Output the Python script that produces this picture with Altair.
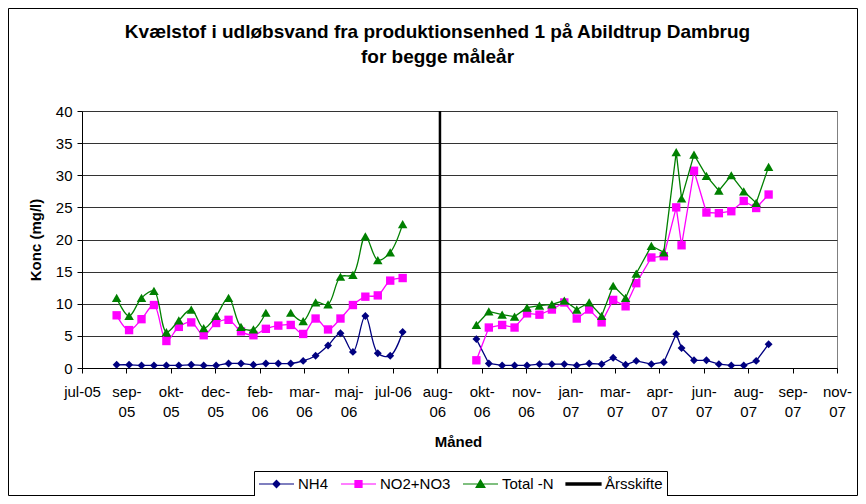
import json
import altair as alt
import pandas as pd

# ---------------- data ----------------
dates_p1 = ["2005-08-25", "2005-09-08", "2005-09-22", "2005-10-06", "2005-10-20", "2005-11-03",
            "2005-11-17", "2005-12-01", "2005-12-15", "2005-12-29", "2006-01-12", "2006-01-26",
            "2006-02-09", "2006-02-23", "2006-03-09", "2006-03-23", "2006-04-06", "2006-04-20",
            "2006-05-04", "2006-05-18", "2006-06-01", "2006-06-15", "2006-06-29", "2006-07-13"]
nh4_p1 = [0.5, 0.5, 0.4, 0.4, 0.4, 0.4, 0.5, 0.4, 0.4, 0.7, 0.7, 0.5,
          0.7, 0.7, 0.7, 1.1, 1.9, 3.5, 5.4, 2.5, 8.1, 2.3, 1.9, 5.6]
no_p1 = [8.2, 5.9, 7.6, 9.8, 4.2, 6.4, 7.1, 5.1, 7.0, 7.5, 5.7, 5.1,
         6.1, 6.6, 6.7, 5.3, 7.7, 6.0, 7.7, 9.8, 11.1, 11.3, 13.6, 14.0]
tot_p1 = [10.9, 8.1, 10.9, 12.0, 5.6, 7.4, 9.1, 6.2, 8.1, 10.9, 6.4, 6.0,
          8.6, None, 8.6, 7.3, 10.2, 9.9, 14.2, 14.5, 20.5, 16.8, 18.0, 22.4]

dates_p2 = ["2006-10-04", "2006-10-18", "2006-11-02", "2006-11-16", "2006-11-30", "2006-12-14",
            "2006-12-28", "2007-01-11", "2007-01-25", "2007-02-08", "2007-02-22", "2007-03-07",
            "2007-03-21", "2007-04-02", "2007-04-19", "2007-05-03", "2007-05-17", "2007-05-23",
            "2007-06-06", "2007-06-20", "2007-07-04", "2007-07-18", "2007-08-01", "2007-08-15",
            "2007-08-29"]
nh4_p2 = [4.5, 0.7, 0.4, 0.4, 0.4, 0.6, 0.6, 0.6, 0.4, 0.7, 0.6, 1.6,
          0.5, 1.1, 0.6, 0.9, 5.3, 3.1, 1.2, 1.2, 0.6, 0.4, 0.4, 1.1, 3.7]
no_p2 = [1.2, 6.3, 6.7, 6.3, 8.5, 8.3, 9.1, 10.2, 7.7, 9.1, 7.1, 10.6,
         9.6, 13.2, 17.2, 17.4, 25.0, 19.1, 30.7, 24.2, 24.1, 24.4, 26.0, 24.9, 27.0]
tot_p2 = [6.7, 8.8, 8.3, 8.0, 9.4, 9.7, 9.9, 10.5, 9.1, 10.2, 8.1, 12.8,
          10.9, 14.7, 19.0, 18.0, 33.6, 26.4, 33.2, 29.9, 27.6, 30.0, 27.5, 25.7, 31.3]

aarsskifte_dates = ["2006-08-24"]

series_names = ["NH4", "NO2+NO3", "Total -N", "Årsskifte"]
series_colors = ["#000080", "#FF00FF", "#008000", "#000000"]

tick_labels = ["jul-05", "sep-05", "okt-05", "dec-05", "feb-06", "mar-06", "maj-06", "jul-06", "aug-06",
               "okt-06", "nov-06", "jan-07", "mar-07", "apr-07", "jun-07", "aug-07", "sep-07", "nov-07"]
y_ticks = [0, 5, 10, 15, 20, 25, 30, 35, 40]

title_lines = ["Kvælstof  i udløbsvand fra produktionsenhed 1 på Abildtrup Dambrug", "for begge måleår"]

# ---------------- helpers ----------------
EPOCH = pd.Timestamp("1899-12-30")


def serial(d):
    return (pd.Timestamp(d) - EPOCH).days


tick_start = serial("2005-07-17")
tick_step = 50
tick_values = [tick_start + tick_step * i for i in range(len(tick_labels))]
label_arrays = [lab if lab.startswith("jul") else [lab.split("-")[0] + "-", lab.split("-")[1]]
                for lab in tick_labels]
label_expr = f"{json.dumps(label_arrays)}[round((datum.value - {tick_start}) / {tick_step})]"

rows = []
for period, dates, groups in [(1, dates_p1, [nh4_p1, no_p1, tot_p1]),
                              (2, dates_p2, [nh4_p2, no_p2, tot_p2])]:
    for name, vals in zip(series_names[:3], groups):
        for d, v in zip(dates, vals):
            rows.append({"t": serial(d), "v": v, "series": name, "period": period})
df = pd.DataFrame(rows)
df_rule = pd.DataFrame({"t": [serial(d) for d in aarsskifte_dates]})
df_legend = pd.DataFrame({"series": series_names})

FONT = "Liberation Sans, Arial, sans-serif"

x_enc = alt.X("t:Q",
              scale=alt.Scale(domain=[tick_values[0], tick_values[-1]], nice=False, zero=False),
              axis=alt.Axis(values=tick_values, labelExpr=label_expr, title="Måned",
                            grid=False, labelFlush=False, labelOverlap=False,
                            labelLineHeight=20, labelBaseline="top", labelPadding=11,
                            tickSize=5, titleX=376, titleY=73, titleBaseline="middle",
                            titleAlign="center"))
y_enc = alt.Y("v:Q",
              scale=alt.Scale(domain=[0, 40], nice=False, zero=True),
              axis=alt.Axis(values=y_ticks, title="Konc (mg/l)", grid=True,
                            labelFlush=False, labelOverlap=False, tickSize=5, labelPadding=5,
                            titleAngle=270, titleX=-47, titleY=128.5, titleBaseline="middle",
                            titleAlign="center"))

shapes = ["diamond", "square", "triangle-up"]
sizes = [62, 70, 90]
layers = []

# outer frame of the chart
frame = alt.Chart(pd.DataFrame({"f": [0]})).mark_rect(
    filled=False, stroke="black", strokeWidth=1, fillOpacity=0).encode(
    x=alt.value(-73.5), x2=alt.value(755 + 20.5), y=alt.value(-102.5), y2=alt.value(257 + 127.5))
layers.append(frame)

for name, col, shp, sz in zip(series_names[:3], series_colors[:3], shapes, sizes):
    sub = alt.Chart(df).transform_filter(alt.datum.series == name)
    l1 = sub.transform_filter(alt.datum.period == 1).mark_line(
        color=col, strokeWidth=1.3, interpolate="catmull-rom").encode(x=x_enc, y=y_enc)
    l2 = sub.transform_filter(alt.datum.period == 2).mark_line(
        color=col, strokeWidth=1.3).encode(x=x_enc, y=y_enc)
    pts = sub.transform_filter("isValid(datum.v)").mark_point(
        shape=shp, filled=True, size=sz, color=col, opacity=1, strokeWidth=1).encode(x=x_enc, y=y_enc)
    layers += [l1, l2, pts]

rule = alt.Chart(df_rule).mark_rule(color="black", strokeWidth=2.5).encode(x=x_enc)
layers.append(rule)

# legend symbols: a 35px line with a marker in its middle (unit = 8px, symbol box -1..1)
legend_paths = [
    "M-1,0H3.375M1.1875,-0.45L1.6375,0L1.1875,0.45L0.7375,0Z",
    "M-1,0H3.375M0.7475,-0.44H1.6275V0.44H0.7475Z",
    "M-1,0H3.375M1.1875,-0.5L1.7375,0.42H0.6375Z",
    "M-1,-0.13H3.375V0.13H-1Z",
]
leg = alt.Legend(title=None, orient="none", legendX=172, legendY=360, direction="horizontal",
                 strokeColor="black", fillColor="white", padding=4, labelFont=FONT,
                 labelFontSize=15, labelColor="black", symbolSize=256, symbolStrokeWidth=1.2,
                 labelOffset=22, columnPadding=9, symbolOpacity=1)
legend_layer = alt.Chart(df_legend).transform_filter("false").mark_point(
    filled=True, opacity=1).encode(
    fill=alt.Fill("series:N", scale=alt.Scale(domain=series_names, range=series_colors), legend=leg),
    stroke=alt.Stroke("series:N", scale=alt.Scale(domain=series_names, range=series_colors), legend=leg),
    shape=alt.Shape("series:N", scale=alt.Scale(domain=series_names, range=legend_paths), legend=leg),
)
layers.append(legend_layer)

chart = alt.layer(*layers).properties(
    width=755, height=257,
    background="white",
    autosize=alt.AutoSizeParams(type="none"),
    padding={"left": 74, "top": 103, "right": 21, "bottom": 128},
    title=alt.TitleParams(text=title_lines, font=FONT, fontSize=19, fontWeight="bold",
                          color="black", anchor="middle", frame="group", dx=-22,
                          baseline="bottom", lineHeight=25, offset=-78),
).configure_view(
    stroke="#808080", strokeWidth=1
).configure_axis(
    domainColor="black", tickColor="black", labelFont=FONT, labelFontSize=15, labelColor="black",
    titleFont=FONT, titleFontSize=15, titleFontWeight="bold", titleColor="black",
    gridColor="#333333", gridWidth=1, domainWidth=1, tickWidth=1,
)

chart.save("out.html", embed_options={"renderer": "svg", "actions": False})
